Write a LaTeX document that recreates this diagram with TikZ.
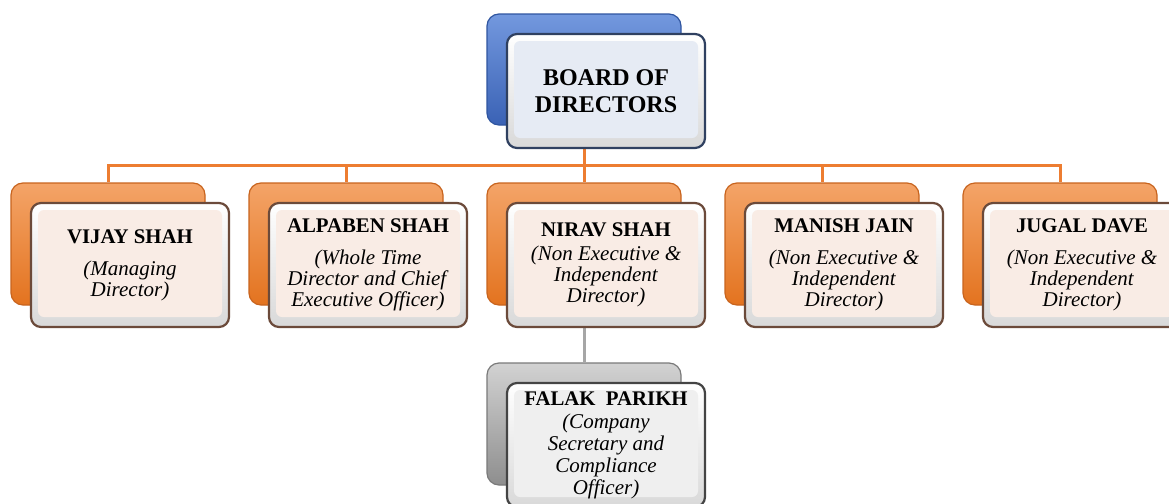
\documentclass[tikz,border=0pt]{standalone}
\usepackage{fontspec}
\setmainfont{Liberation Serif}
\definecolor{orgA}{HTML}{F4A468}
\definecolor{orgB}{HTML}{E3731F}
\definecolor{orgE}{HTML}{C8641E}
\definecolor{bluA}{HTML}{7398DE}
\definecolor{bluB}{HTML}{3A62B5}
\definecolor{bluE}{HTML}{2F55A0}
\definecolor{gryA}{HTML}{D2D2D2}
\definecolor{gryB}{HTML}{8E8E8E}
\definecolor{gryE}{HTML}{7A7A7A}
\definecolor{orgLine}{HTML}{ED7D31}
\definecolor{gryLine}{HTML}{A6A6A6}
\definecolor{fillO}{HTML}{F9ECE5}
\definecolor{fillB}{HTML}{E6EBF4}
\definecolor{fillG}{HTML}{EFEFEF}
\definecolor{edgeO}{HTML}{6B4A3A}
\definecolor{edgeB}{HTML}{2F4060}
\definecolor{edgeG}{HTML}{444444}
\newcommand\nm[1]{{\bfseries\fontsize{10.4}{10.5}\selectfont #1}}
\tikzset{
  backbox/.style n args={3}{rounded corners=6pt, minimum width=97pt, minimum height=61pt,
     inner sep=0pt, draw=#3, line width=0.6pt, top color=#1, bottom color=#2},
  frontbox/.style 2 args={rounded corners=5pt, minimum width=99pt, minimum height=62pt,
     inner sep=0pt, draw=#1, line width=1.1pt, top color=white, bottom color=gray!30,
     path picture={\fill[#2, rounded corners=3pt]
        ([shift={(3.5pt,-3.5pt)}]path picture bounding box.north west) rectangle
        ([shift={(-3.5pt,5pt)}]path picture bounding box.south east);},
     align=center, font=\fontsize{10.5}{10.5}\selectfont},
  orgconn/.style={draw=orgLine, line width=1.5pt},
  grayconn/.style={draw=gryLine, line width=1.5pt},
}
\begin{document}
\begin{tikzpicture}[x=0.5pt,y=-0.5pt]
\useasboundingbox (0,0) rectangle (1169,504);
% back boxes
\node[backbox={bluA}{bluB}{bluE}, minimum height=55.5pt] (boardback) at (584,69.5) {};
\node[backbox={orgA}{orgB}{orgE}] (vijayback) at (108,244) {};
\node[backbox={orgA}{orgB}{orgE}] (alpaback) at (346,244) {};
\node[backbox={orgA}{orgB}{orgE}] (niravback) at (584,244) {};
\node[backbox={orgA}{orgB}{orgE}] (manishback) at (822,244) {};
\node[backbox={orgA}{orgB}{orgE}] (jugalback) at (1060,244) {};
\node[backbox={gryA}{gryB}{gryE}] (falakback) at (584,424) {};
% connectors
\draw[orgconn] (boardback.south) -- ++(0,40) -| (vijayback.north);
\draw[orgconn] (boardback.south) -- ++(0,40) -| (alpaback.north);
\draw[orgconn] (boardback.south) -- (niravback.north);
\draw[orgconn] (boardback.south) -- ++(0,40) -| (manishback.north);
\draw[orgconn] (boardback.south) -- ++(0,40) -| (jugalback.north);
\draw[grayconn] (niravback.south) -- (falakback.north);
% front boxes
\node[frontbox={edgeB}{fillB}, minimum height=57pt,
      font=\bfseries\fontsize{12}{13.5}\selectfont] (board) at (606,91) {BOARD OF\\DIRECTORS};
\node[frontbox={edgeO}{fillO}] (vijay) at (130,265)
  {\nm{VIJAY SHAH}\\[5.5pt]\textit{(Managing}\\\textit{Director)}};
\node[frontbox={edgeO}{fillO}] (alpa) at (368,265)
  {\nm{ALPABEN SHAH}\\[5.5pt]\textit{(Whole Time}\\\textit{Director and Chief}\\\textit{Executive Officer)}};
\node[frontbox={edgeO}{fillO}] (nirav) at (606,265)
  {\nm{NIRAV SHAH}\\[1.5pt]\textit{(Non Executive \&}\\\textit{Independent}\\\textit{Director)}};
\node[frontbox={edgeO}{fillO}] (manish) at (844,265)
  {\nm{MANISH JAIN}\\[5.5pt]\textit{(Non Executive \&}\\\textit{Independent}\\\textit{Director)}};
\node[frontbox={edgeO}{fillO}] (jugal) at (1082,265)
  {\nm{JUGAL DAVE}\\[5.5pt]\textit{(Non Executive \&}\\\textit{Independent}\\\textit{Director)}};
\node[frontbox={edgeG}{fillG}, font=\fontsize{10.5}{11}\selectfont] (falak) at (606,445)
  {\nm{FALAK\ \ PARIKH}\\[0.5pt]\textit{(Company}\\\textit{Secretary and}\\\textit{Compliance}\\\textit{Officer)}};
\end{tikzpicture}
\end{document}
